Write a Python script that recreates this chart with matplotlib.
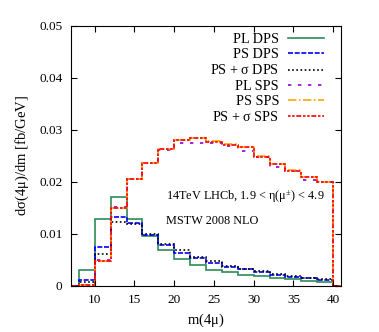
import numpy as np
import matplotlib.pyplot as plt

plt.rcParams['font.family'] = ['Liberation Serif', 'DejaVu Serif']
plt.rcParams['mathtext.fontset'] = 'custom'
plt.rcParams['mathtext.rm'] = 'Liberation Serif'
plt.rcParams['mathtext.it'] = 'Liberation Serif'

# bin edges in m(4mu), 2 GeV bins (empty bins either side of the range)
edges = np.arange(6, 44, 2)

pl_dps  = [0.0030, 0.0129, 0.0170, 0.0129, 0.0095, 0.0068, 0.0052, 0.0040,
           0.0030, 0.0026, 0.0021, 0.0018, 0.0015, 0.0013, 0.0010, 0.0008]
ps_dps  = [0.0012, 0.0075, 0.0133, 0.0121, 0.0097, 0.0078, 0.0063, 0.0054,
           0.0044, 0.0037, 0.0032, 0.0026, 0.0021, 0.0017, 0.0015, 0.0012]
pss_dps = [0.0008, 0.0062, 0.0122, 0.0119, 0.0099, 0.0080, 0.0069, 0.0056,
           0.0047, 0.0038, 0.0033, 0.0028, 0.0022, 0.0019, 0.0016, 0.0013]
pl_sps  = [0.0002, 0.0050, 0.0152, 0.0205, 0.0237, 0.0261, 0.0274, 0.0275,
           0.0274, 0.0269, 0.0260, 0.0248, 0.0228, 0.0220, 0.0204, 0.0199]
ps_sps  = [0.0002, 0.0047, 0.0150, 0.0206, 0.0237, 0.0263, 0.0280, 0.0285,
           0.0278, 0.0272, 0.0268, 0.0249, 0.0235, 0.0222, 0.0210, 0.0200]
pss_sps = [0.0002, 0.0047, 0.0150, 0.0206, 0.0237, 0.0263, 0.0280, 0.0284,
           0.0277, 0.0271, 0.0267, 0.0248, 0.0234, 0.0221, 0.0209, 0.0199]

labels = ["PL DPS", "PS DPS", r"PS + $\sigma$ DPS",
          "PL SPS", "PS SPS", r"PS + $\sigma$ SPS"]
series = [pl_dps, ps_dps, pss_dps, pl_sps, ps_sps, pss_sps]
colors = ["#2e8b57", "#0000ff", "#000000", "#9400d3", "#ffa500", "#ff0000"]
styles = ["-", (0, (3, 1)), (0, (1, 1.5)), (0, (2, 4)), (0, (5, 1.5, 1, 1.5)),
          (0, (1.5, 1, 1.5, 1, 3, 1))]

xticks = [10, 15, 20, 25, 30, 35, 40]
yticks = [0, 0.01, 0.02, 0.03, 0.04, 0.05]
ytick_labels = ["0", "0.01", "0.02", "0.03", "0.04", "0.05"]

fig = plt.figure(figsize=(3.79, 3.32), dpi=100)
ax = fig.add_axes([0.187, 0.139, 0.713, 0.783])

for vals, lab, c, ls in zip(series, labels, colors, styles):
    padded = np.concatenate([[0], vals, [0]])
    ax.stairs(padded, edges, baseline=None, color=c, ls=ls, lw=1.2, label=lab)

ax.set_xlim(7, 41)
ax.set_ylim(0, 0.05)
ax.set_xticks(xticks)
ax.set_yticks(yticks)
ax.set_yticklabels(ytick_labels)
ax.tick_params(direction="in", top=True, right=True, labelsize=9.5, length=4, pad=6)
ax.set_xlabel(r"m(4$\mu$)", fontsize=10.5, labelpad=4)
ax.set_ylabel(r"d$\sigma$(4$\mu$)/dm [fb/GeV]", fontsize=10.5, labelpad=6)

ax.text(19.0, 0.0172, r"14TeV LHCb, 1.9 < $\eta$($\mu^{\pm}$) < 4.9", fontsize=8.8, va="center")
ax.text(19.0, 0.0124, "MSTW 2008 NLO", fontsize=8.8, va="center")

ax.legend(loc="upper right", bbox_to_anchor=(0.975, 1.01), frameon=False,
          markerfirst=False, fontsize=10.2, handlelength=2.6, handletextpad=0.6,
          labelspacing=0.15, borderaxespad=0.3)

fig.savefig("out.png", dpi=100)
